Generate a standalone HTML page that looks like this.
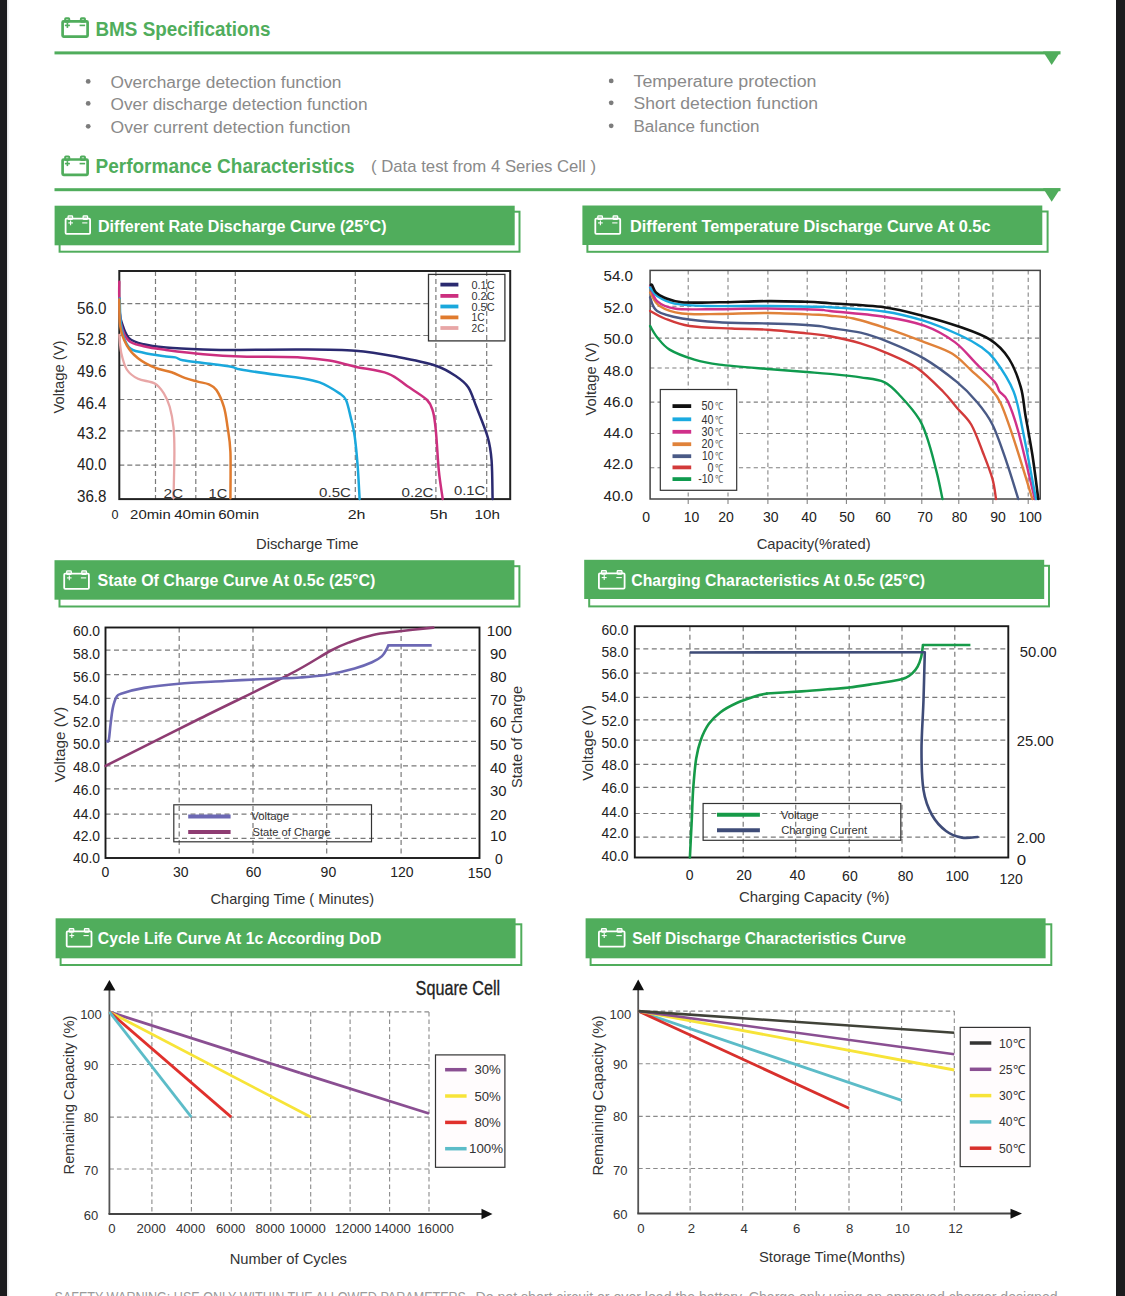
<!DOCTYPE html>
<html><head><meta charset="utf-8"><title>BMS Specifications</title>
<style>
html,body{margin:0;padding:0;background:#fff;}
body{width:1125px;height:1296px;overflow:hidden;position:relative;}
svg{position:absolute;left:0;top:0;display:block;font-family:"Liberation Sans",sans-serif;}
</style></head><body>
<svg width="1125" height="1296" viewBox="0 0 1125 1296">
<rect x="0.0" y="0.0" width="7.0" height="1296.0" fill="#1c1c1e" />
<rect x="7.0" y="0.0" width="1.5" height="1296.0" fill="#e8e8e8" />
<rect x="1116.0" y="0.0" width="9.0" height="1296.0" fill="#1c1c1e" />
<rect x="62.6" y="21.3" width="25.0" height="15.3" rx="1" fill="none" stroke="#50ad5c" stroke-width="2.7"/>
<rect x="65.1" y="18.2" width="4.2" height="3.7" rx="0.8" fill="#50ad5c" fill-opacity="0.35" stroke="#50ad5c" stroke-width="1.89"/>
<rect x="80.8" y="18.2" width="4.2" height="3.7" rx="0.8" fill="#50ad5c" fill-opacity="0.35" stroke="#50ad5c" stroke-width="1.89"/>
<line x1="64.9" y1="25.4" x2="69.9" y2="25.4" stroke="#50ad5c" stroke-width="1.62" />
<line x1="67.4" y1="22.9" x2="67.4" y2="27.9" stroke="#50ad5c" stroke-width="1.62" />
<line x1="79.6" y1="25.4" x2="85.1" y2="25.4" stroke="#50ad5c" stroke-width="1.62" />
<text x="95.5" y="35.6" font-size="20" fill="#50ad5c" font-weight="bold" textLength="175.0" lengthAdjust="spacingAndGlyphs" >BMS Specifications</text>
<rect x="54.5" y="51.4" width="1006.0" height="3.0" fill="#50ad5c" />
<polygon points="1043,51.4 1060.5,51.4 1051.7,64.9" fill="#50ad5c"/>
<rect x="62.6" y="159.5" width="25.0" height="15.3" rx="1" fill="none" stroke="#50ad5c" stroke-width="2.7"/>
<rect x="65.1" y="156.4" width="4.2" height="3.7" rx="0.8" fill="#50ad5c" fill-opacity="0.35" stroke="#50ad5c" stroke-width="1.89"/>
<rect x="80.8" y="156.4" width="4.2" height="3.7" rx="0.8" fill="#50ad5c" fill-opacity="0.35" stroke="#50ad5c" stroke-width="1.89"/>
<line x1="64.9" y1="163.6" x2="69.9" y2="163.6" stroke="#50ad5c" stroke-width="1.62" />
<line x1="67.4" y1="161.1" x2="67.4" y2="166.1" stroke="#50ad5c" stroke-width="1.62" />
<line x1="79.6" y1="163.6" x2="85.1" y2="163.6" stroke="#50ad5c" stroke-width="1.62" />
<text x="95.5" y="172.5" font-size="20" fill="#50ad5c" font-weight="bold" textLength="259.0" lengthAdjust="spacingAndGlyphs" >Performance Characteristics</text>
<rect x="54.5" y="188.2" width="1006.0" height="3.0" fill="#50ad5c" />
<polygon points="1043,188.2 1060.5,188.2 1051.7,201.7" fill="#50ad5c"/>
<text x="371.0" y="172.0" font-size="17" fill="#8a8a8a" textLength="225.0" lengthAdjust="spacingAndGlyphs" >( Data test from 4 Series Cell )</text>
<circle cx="88.2" cy="81.4" r="2.4" fill="#7c7c7c"/>
<text x="110.5" y="87.6" font-size="17.3" fill="#8a8a8a" textLength="231.0" lengthAdjust="spacingAndGlyphs" >Overcharge detection function</text>
<circle cx="88.2" cy="103.4" r="2.4" fill="#7c7c7c"/>
<text x="110.5" y="109.6" font-size="17.3" fill="#8a8a8a" textLength="257.0" lengthAdjust="spacingAndGlyphs" >Over discharge detection function</text>
<circle cx="88.2" cy="126.3" r="2.4" fill="#7c7c7c"/>
<text x="110.5" y="132.5" font-size="17.3" fill="#8a8a8a" textLength="240.0" lengthAdjust="spacingAndGlyphs" >Over current detection function</text>
<circle cx="611.2" cy="80.9" r="2.4" fill="#7c7c7c"/>
<text x="633.5" y="87.1" font-size="17.3" fill="#8a8a8a" textLength="183.0" lengthAdjust="spacingAndGlyphs" >Temperature protection</text>
<circle cx="611.2" cy="102.8" r="2.4" fill="#7c7c7c"/>
<text x="633.5" y="109.0" font-size="17.3" fill="#8a8a8a" textLength="184.5" lengthAdjust="spacingAndGlyphs" >Short detection function</text>
<circle cx="611.2" cy="125.8" r="2.4" fill="#7c7c7c"/>
<text x="633.5" y="132.0" font-size="17.3" fill="#8a8a8a" textLength="126.0" lengthAdjust="spacingAndGlyphs" >Balance function</text>
<rect x="59.6" y="211.7" width="459.9" height="40.0" fill="none" stroke="#50ad5c" stroke-width="2"/>
<rect x="54.6" y="205.7" width="460.1" height="39.6" fill="#50ad5c" />
<rect x="65.6" y="218.7" width="24.5" height="15.1" rx="1" fill="none" stroke="#ffffff" stroke-width="1.8"/>
<rect x="68.1" y="215.9" width="4.5" height="3.5" rx="0.8" fill="#ffffff" fill-opacity="0.35" stroke="#ffffff" stroke-width="1.26"/>
<rect x="83.1" y="215.9" width="4.5" height="3.5" rx="0.8" fill="#ffffff" fill-opacity="0.35" stroke="#ffffff" stroke-width="1.26"/>
<line x1="68.3" y1="222.9" x2="73.0" y2="222.9" stroke="#ffffff" stroke-width="1.08" />
<line x1="70.6" y1="220.5" x2="70.6" y2="225.3" stroke="#ffffff" stroke-width="1.08" />
<line x1="82.2" y1="222.9" x2="87.4" y2="222.9" stroke="#ffffff" stroke-width="1.08" />
<text x="98.0" y="231.7" font-size="16" fill="#ffffff" font-weight="bold" textLength="288.5" lengthAdjust="spacingAndGlyphs" >Different Rate Discharge Curve (25°C)</text>
<rect x="587.4" y="211.5" width="460.2" height="40.3" fill="none" stroke="#50ad5c" stroke-width="2"/>
<rect x="582.4" y="205.5" width="459.9" height="39.5" fill="#50ad5c" />
<rect x="595.3" y="218.7" width="24.9" height="15.1" rx="1" fill="none" stroke="#ffffff" stroke-width="1.8"/>
<rect x="597.8" y="215.9" width="4.6" height="3.5" rx="0.8" fill="#ffffff" fill-opacity="0.35" stroke="#ffffff" stroke-width="1.26"/>
<rect x="613.1" y="215.9" width="4.6" height="3.5" rx="0.8" fill="#ffffff" fill-opacity="0.35" stroke="#ffffff" stroke-width="1.26"/>
<line x1="598.0" y1="222.9" x2="602.8" y2="222.9" stroke="#ffffff" stroke-width="1.08" />
<line x1="600.4" y1="220.5" x2="600.4" y2="225.3" stroke="#ffffff" stroke-width="1.08" />
<line x1="612.2" y1="222.9" x2="617.5" y2="222.9" stroke="#ffffff" stroke-width="1.08" />
<text x="630.0" y="231.5" font-size="16" fill="#ffffff" font-weight="bold" textLength="360.5" lengthAdjust="spacingAndGlyphs" >Different Temperature Discharge Curve At 0.5c</text>
<rect x="59.5" y="566.2" width="459.9" height="40.3" fill="none" stroke="#50ad5c" stroke-width="2"/>
<rect x="54.5" y="560.2" width="459.9" height="39.5" fill="#50ad5c" />
<rect x="64.2" y="573.7" width="24.7" height="15.1" rx="1" fill="none" stroke="#ffffff" stroke-width="1.8"/>
<rect x="66.7" y="570.9" width="4.6" height="3.5" rx="0.8" fill="#ffffff" fill-opacity="0.35" stroke="#ffffff" stroke-width="1.26"/>
<rect x="81.8" y="570.9" width="4.6" height="3.5" rx="0.8" fill="#ffffff" fill-opacity="0.35" stroke="#ffffff" stroke-width="1.26"/>
<line x1="66.9" y1="577.9" x2="71.6" y2="577.9" stroke="#ffffff" stroke-width="1.08" />
<line x1="69.3" y1="575.5" x2="69.3" y2="580.3" stroke="#ffffff" stroke-width="1.08" />
<line x1="80.9" y1="577.9" x2="86.2" y2="577.9" stroke="#ffffff" stroke-width="1.08" />
<text x="97.6" y="586.2" font-size="16" fill="#ffffff" font-weight="bold" textLength="277.8" lengthAdjust="spacingAndGlyphs" >State Of Charge Curve At 0.5c (25°C)</text>
<rect x="589.2" y="565.8" width="459.8" height="40.6" fill="none" stroke="#50ad5c" stroke-width="2"/>
<rect x="584.2" y="559.8" width="460.0" height="39.2" fill="#50ad5c" />
<rect x="598.9" y="573.4" width="25.7" height="15.2" rx="1" fill="none" stroke="#ffffff" stroke-width="1.8"/>
<rect x="601.5" y="570.6" width="4.8" height="3.5" rx="0.8" fill="#ffffff" fill-opacity="0.35" stroke="#ffffff" stroke-width="1.26"/>
<rect x="617.2" y="570.6" width="4.8" height="3.5" rx="0.8" fill="#ffffff" fill-opacity="0.35" stroke="#ffffff" stroke-width="1.26"/>
<line x1="601.7" y1="577.6" x2="606.7" y2="577.6" stroke="#ffffff" stroke-width="1.08" />
<line x1="604.2" y1="575.1" x2="604.2" y2="580.1" stroke="#ffffff" stroke-width="1.08" />
<line x1="616.3" y1="577.6" x2="621.8" y2="577.6" stroke="#ffffff" stroke-width="1.08" />
<text x="631.3" y="585.8" font-size="16" fill="#ffffff" font-weight="bold" textLength="293.8" lengthAdjust="spacingAndGlyphs" >Charging Characteristics At 0.5c (25°C)</text>
<rect x="60.6" y="924.3" width="460.7" height="40.7" fill="none" stroke="#50ad5c" stroke-width="2"/>
<rect x="55.6" y="918.3" width="460.0" height="40.0" fill="#50ad5c" />
<rect x="66.7" y="931.4" width="24.8" height="15.2" rx="1" fill="none" stroke="#ffffff" stroke-width="1.8"/>
<rect x="69.2" y="928.6" width="4.6" height="3.5" rx="0.8" fill="#ffffff" fill-opacity="0.35" stroke="#ffffff" stroke-width="1.26"/>
<rect x="84.4" y="928.6" width="4.6" height="3.5" rx="0.8" fill="#ffffff" fill-opacity="0.35" stroke="#ffffff" stroke-width="1.26"/>
<line x1="69.4" y1="935.6" x2="74.2" y2="935.6" stroke="#ffffff" stroke-width="1.08" />
<line x1="71.8" y1="933.2" x2="71.8" y2="938.0" stroke="#ffffff" stroke-width="1.08" />
<line x1="83.5" y1="935.6" x2="88.8" y2="935.6" stroke="#ffffff" stroke-width="1.08" />
<text x="97.8" y="944.3" font-size="16" fill="#ffffff" font-weight="bold" textLength="283.5" lengthAdjust="spacingAndGlyphs" >Cycle Life Curve At 1c According DoD</text>
<rect x="590.6" y="924.3" width="460.7" height="40.7" fill="none" stroke="#50ad5c" stroke-width="2"/>
<rect x="585.6" y="918.3" width="460.0" height="40.0" fill="#50ad5c" />
<rect x="598.9" y="931.4" width="25.7" height="15.2" rx="1" fill="none" stroke="#ffffff" stroke-width="1.8"/>
<rect x="601.5" y="928.6" width="4.8" height="3.5" rx="0.8" fill="#ffffff" fill-opacity="0.35" stroke="#ffffff" stroke-width="1.26"/>
<rect x="617.2" y="928.6" width="4.8" height="3.5" rx="0.8" fill="#ffffff" fill-opacity="0.35" stroke="#ffffff" stroke-width="1.26"/>
<line x1="601.7" y1="935.6" x2="606.7" y2="935.6" stroke="#ffffff" stroke-width="1.08" />
<line x1="604.2" y1="933.1" x2="604.2" y2="938.1" stroke="#ffffff" stroke-width="1.08" />
<line x1="616.3" y1="935.6" x2="621.8" y2="935.6" stroke="#ffffff" stroke-width="1.08" />
<text x="632.2" y="944.3" font-size="16" fill="#ffffff" font-weight="bold" textLength="273.8" lengthAdjust="spacingAndGlyphs" >Self Discharge Characteristics Curve</text>
<line x1="119.3" y1="303.6" x2="428.0" y2="303.6" stroke="#7a7a7a" stroke-width="1.2" stroke-dasharray="5,3"/>
<line x1="119.3" y1="335.5" x2="428.0" y2="335.5" stroke="#7a7a7a" stroke-width="1.2" stroke-dasharray="5,3"/>
<line x1="119.3" y1="365.4" x2="494.0" y2="365.4" stroke="#7a7a7a" stroke-width="1.2" stroke-dasharray="5,3"/>
<line x1="119.3" y1="399.5" x2="494.0" y2="399.5" stroke="#7a7a7a" stroke-width="1.2" stroke-dasharray="5,3"/>
<line x1="119.3" y1="430.8" x2="494.0" y2="430.8" stroke="#7a7a7a" stroke-width="1.2" stroke-dasharray="5,3"/>
<line x1="119.3" y1="465.1" x2="494.0" y2="465.1" stroke="#7a7a7a" stroke-width="1.2" stroke-dasharray="5,3"/>
<line x1="155.5" y1="271.0" x2="155.5" y2="499.1" stroke="#7a7a7a" stroke-width="1.2" stroke-dasharray="5,3"/>
<line x1="195.8" y1="271.0" x2="195.8" y2="499.1" stroke="#7a7a7a" stroke-width="1.2" stroke-dasharray="5,3"/>
<line x1="235.3" y1="271.0" x2="235.3" y2="499.1" stroke="#7a7a7a" stroke-width="1.2" stroke-dasharray="5,3"/>
<line x1="355.3" y1="271.0" x2="355.3" y2="499.1" stroke="#7a7a7a" stroke-width="1.2" stroke-dasharray="5,3"/>
<line x1="435.9" y1="271.0" x2="435.9" y2="499.1" stroke="#7a7a7a" stroke-width="1.2" stroke-dasharray="5,3"/>
<line x1="486.7" y1="271.0" x2="486.7" y2="499.1" stroke="#7a7a7a" stroke-width="1.2" stroke-dasharray="5,3"/>
<rect x="119.3" y="271.0" width="390.9" height="228.1" fill="none" stroke="#222" stroke-width="2" />
<text x="106.5" y="314.2" font-size="16" fill="#222" text-anchor="end" textLength="29.5" lengthAdjust="spacingAndGlyphs" >56.0</text>
<text x="106.5" y="345.2" font-size="16" fill="#222" text-anchor="end" textLength="29.5" lengthAdjust="spacingAndGlyphs" >52.8</text>
<text x="106.5" y="377.2" font-size="16" fill="#222" text-anchor="end" textLength="29.5" lengthAdjust="spacingAndGlyphs" >49.6</text>
<text x="106.5" y="408.6" font-size="16" fill="#222" text-anchor="end" textLength="29.5" lengthAdjust="spacingAndGlyphs" >46.4</text>
<text x="106.5" y="439.2" font-size="16" fill="#222" text-anchor="end" textLength="29.5" lengthAdjust="spacingAndGlyphs" >43.2</text>
<text x="106.5" y="470.2" font-size="16" fill="#222" text-anchor="end" textLength="29.5" lengthAdjust="spacingAndGlyphs" >40.0</text>
<text x="106.5" y="501.9" font-size="16" fill="#222" text-anchor="end" textLength="29.5" lengthAdjust="spacingAndGlyphs" >36.8</text>
<text x="64.0" y="377.0" font-size="14" fill="#333" text-anchor="middle" textLength="73.0" lengthAdjust="spacingAndGlyphs" transform="rotate(-90 64.0 377.0)" >Voltage (V)</text>
<text x="111.5" y="518.5" font-size="13.5" fill="#222" textLength="7.0" lengthAdjust="spacingAndGlyphs" >0</text>
<text x="130.1" y="518.5" font-size="13.5" fill="#222" textLength="40.6" lengthAdjust="spacingAndGlyphs" >20min</text>
<text x="174.2" y="518.5" font-size="13.5" fill="#222" textLength="41.3" lengthAdjust="spacingAndGlyphs" >40min</text>
<text x="218.2" y="518.5" font-size="13.5" fill="#222" textLength="40.9" lengthAdjust="spacingAndGlyphs" >60min</text>
<text x="347.7" y="518.5" font-size="13.5" fill="#222" textLength="17.8" lengthAdjust="spacingAndGlyphs" >2h</text>
<text x="429.8" y="518.5" font-size="13.5" fill="#222" textLength="17.8" lengthAdjust="spacingAndGlyphs" >5h</text>
<text x="474.6" y="518.5" font-size="13.5" fill="#222" textLength="25.3" lengthAdjust="spacingAndGlyphs" >10h</text>
<text x="256.0" y="549.0" font-size="14.5" fill="#333" textLength="102.5" lengthAdjust="spacingAndGlyphs" >Discharge Time</text>
<path d="M119.6,312.0 C119.9,313.7 120.0,317.7 121.5,322.0 C123.0,326.3 125.0,334.1 128.7,337.8 C132.4,341.5 137.4,342.7 143.6,344.3 C149.8,345.9 156.1,346.6 166.0,347.5 C175.9,348.4 190.9,349.0 203.3,349.4 C215.8,349.8 224.6,349.9 240.7,349.9 C256.8,349.9 280.9,349.4 300.0,349.5 C319.1,349.6 339.0,349.5 355.3,350.7 C371.6,351.9 384.4,354.4 397.8,356.9 C411.2,359.4 426.1,362.4 435.9,365.7 C445.7,369.0 451.0,372.9 456.4,376.5 C461.8,380.1 464.9,382.3 468.2,387.2 C471.5,392.1 472.8,397.5 476.0,405.8 C479.2,414.1 485.1,428.0 487.7,437.1 C490.3,446.2 490.8,450.3 491.6,460.6 C492.4,470.9 492.4,492.6 492.6,499.0" fill="none" stroke="#2b2a70" stroke-width="2.5" stroke-linejoin="round" stroke-linecap="round"/>
<path d="M119.3,281.8 C119.3,284.6 119.0,291.5 119.3,298.6 C119.6,305.8 119.6,317.7 121.2,324.7 C122.8,331.7 125.0,337.0 128.7,340.6 C132.4,344.2 137.4,344.6 143.6,346.2 C149.8,347.8 156.1,348.6 166.0,349.9 C175.9,351.2 190.9,353.1 203.3,354.2 C215.8,355.3 224.6,356.0 240.7,356.5 C256.8,357.0 285.2,356.7 300.0,357.4 C314.8,358.1 320.1,358.9 329.3,360.5 C338.5,362.1 345.5,364.5 355.3,366.7 C365.1,368.9 379.3,370.3 388.0,373.6 C396.7,376.9 401.0,381.9 407.5,386.3 C414.0,390.7 422.9,395.8 427.1,400.0 C431.4,404.2 431.5,406.5 433.0,411.7 C434.5,416.9 434.9,421.5 435.9,431.3 C436.9,441.1 437.7,459.1 438.8,470.4 C439.9,481.7 442.1,494.2 442.7,499.0" fill="none" stroke="#cc2f7f" stroke-width="2.5" stroke-linejoin="round" stroke-linecap="round"/>
<path d="M119.7,298.6 C120.0,303.3 119.7,318.5 121.2,326.6 C122.7,334.7 125.0,342.8 128.7,347.1 C132.4,351.5 137.4,351.1 143.6,352.7 C149.8,354.3 160.7,355.7 166.0,356.5 C171.3,357.3 172.5,356.8 175.3,357.4 C178.1,358.0 178.1,359.3 182.8,360.2 C187.5,361.1 195.2,361.9 203.3,363.0 C211.4,364.1 225.1,365.6 231.3,366.7 C237.5,367.8 232.9,368.1 240.7,369.5 C248.5,370.9 268.1,373.7 278.0,375.1 C287.9,376.5 293.1,376.7 300.0,377.9 C306.9,379.1 313.1,379.9 319.6,382.4 C326.1,384.9 334.7,390.2 339.1,393.1 C343.5,396.0 344.1,395.9 346.0,400.0 C347.9,404.1 349.3,411.4 350.8,417.6 C352.3,423.8 353.7,429.0 354.8,437.1 C355.9,445.2 356.9,456.2 357.7,466.5 C358.5,476.8 359.3,493.6 359.6,499.0" fill="none" stroke="#1aa8dc" stroke-width="2.5" stroke-linejoin="round" stroke-linecap="round"/>
<path d="M119.3,299.5 C119.5,304.0 119.0,319.0 120.3,326.6 C121.5,334.2 123.8,340.0 126.8,345.3 C129.8,350.6 133.3,354.6 138.0,358.3 C142.7,362.0 149.2,365.4 154.8,367.7 C160.4,370.0 166.6,370.6 171.6,372.3 C176.6,374.0 180.3,376.3 184.7,377.9 C189.0,379.4 193.7,380.5 197.7,381.6 C201.7,382.7 205.8,383.0 208.9,384.4 C212.0,385.8 213.9,386.3 216.4,390.0 C218.9,393.7 222.0,400.6 223.9,406.8 C225.8,413.0 226.5,419.9 227.6,427.4 C228.7,434.9 229.9,439.8 230.4,451.6 C230.9,463.4 230.4,490.5 230.4,498.3" fill="none" stroke="#e07b2e" stroke-width="2.5" stroke-linejoin="round" stroke-linecap="round"/>
<path d="M119.3,335.0 C119.6,337.9 120.0,346.9 121.2,352.7 C122.5,358.4 124.0,365.1 126.8,369.5 C129.6,373.9 133.3,376.5 138.0,378.8 C142.7,381.1 150.5,381.0 154.8,383.5 C159.2,386.0 161.6,389.9 164.1,393.8 C166.6,397.7 168.1,401.2 169.7,406.8 C171.3,412.4 172.7,419.9 173.5,427.4 C174.3,434.9 174.4,439.8 174.4,451.6 C174.4,463.4 173.7,490.5 173.5,498.3" fill="none" stroke="#e8a6a6" stroke-width="2.3" stroke-linejoin="round" stroke-linecap="round"/>
<text x="163.5" y="497.5" font-size="13.5" fill="#333" textLength="19.8" lengthAdjust="spacingAndGlyphs" >2C</text>
<text x="208.5" y="497.5" font-size="13.5" fill="#333" textLength="18.7" lengthAdjust="spacingAndGlyphs" >1C</text>
<text x="319.1" y="497.4" font-size="13.5" fill="#333" textLength="31.8" lengthAdjust="spacingAndGlyphs" >0.5C</text>
<text x="401.5" y="497.4" font-size="13.5" fill="#333" textLength="32.0" lengthAdjust="spacingAndGlyphs" >0.2C</text>
<text x="454.0" y="495.4" font-size="13.5" fill="#333" textLength="31.3" lengthAdjust="spacingAndGlyphs" >0.1C</text>
<rect x="428.5" y="274.4" width="76.4" height="66.5" fill="none" stroke="#333" stroke-width="1.3" />
<line x1="440.4" y1="284.6" x2="458.4" y2="284.6" stroke="#2b2a70" stroke-width="3.8" />
<text x="471.5" y="288.6" font-size="11" fill="#333" textLength="23.0" lengthAdjust="spacingAndGlyphs" >0.1C</text>
<line x1="440.4" y1="295.9" x2="458.4" y2="295.9" stroke="#cc2f7f" stroke-width="3.8" />
<text x="471.5" y="299.9" font-size="11" fill="#333" textLength="23.0" lengthAdjust="spacingAndGlyphs" >0.2C</text>
<line x1="440.4" y1="306.5" x2="458.4" y2="306.5" stroke="#1aa8dc" stroke-width="3.8" />
<text x="471.5" y="310.5" font-size="11" fill="#333" textLength="23.0" lengthAdjust="spacingAndGlyphs" >0.5C</text>
<line x1="440.4" y1="317.4" x2="458.4" y2="317.4" stroke="#e07b2e" stroke-width="3.8" />
<text x="471.5" y="321.4" font-size="11" fill="#333" textLength="13.0" lengthAdjust="spacingAndGlyphs" >1C</text>
<line x1="440.4" y1="328.0" x2="458.4" y2="328.0" stroke="#e8a6a6" stroke-width="3.8" />
<text x="471.5" y="332.0" font-size="11" fill="#333" textLength="13.0" lengthAdjust="spacingAndGlyphs" >2C</text>
<line x1="650.1" y1="306.3" x2="1040.0" y2="306.3" stroke="#808080" stroke-width="1.05" stroke-dasharray="4.2,3.2"/>
<line x1="650.1" y1="338.1" x2="1040.0" y2="338.1" stroke="#808080" stroke-width="1.05" stroke-dasharray="4.2,3.2"/>
<line x1="650.1" y1="368.0" x2="1040.0" y2="368.0" stroke="#808080" stroke-width="1.05" stroke-dasharray="4.2,3.2"/>
<line x1="650.1" y1="402.1" x2="1040.0" y2="402.1" stroke="#808080" stroke-width="1.05" stroke-dasharray="4.2,3.2"/>
<line x1="650.1" y1="433.4" x2="1040.0" y2="433.4" stroke="#808080" stroke-width="1.05" stroke-dasharray="4.2,3.2"/>
<line x1="650.1" y1="467.7" x2="1040.0" y2="467.7" stroke="#808080" stroke-width="1.05" stroke-dasharray="4.2,3.2"/>
<line x1="688.2" y1="270.4" x2="688.2" y2="505.0" stroke="#808080" stroke-width="1.05" stroke-dasharray="4.2,3.2"/>
<line x1="728.0" y1="270.4" x2="728.0" y2="505.0" stroke="#808080" stroke-width="1.05" stroke-dasharray="4.2,3.2"/>
<line x1="767.9" y1="270.4" x2="767.9" y2="505.0" stroke="#808080" stroke-width="1.05" stroke-dasharray="4.2,3.2"/>
<line x1="807.2" y1="270.4" x2="807.2" y2="505.0" stroke="#808080" stroke-width="1.05" stroke-dasharray="4.2,3.2"/>
<line x1="846.4" y1="270.4" x2="846.4" y2="505.0" stroke="#808080" stroke-width="1.05" stroke-dasharray="4.2,3.2"/>
<line x1="884.8" y1="270.4" x2="884.8" y2="505.0" stroke="#808080" stroke-width="1.05" stroke-dasharray="4.2,3.2"/>
<line x1="921.8" y1="270.4" x2="921.8" y2="505.0" stroke="#808080" stroke-width="1.05" stroke-dasharray="4.2,3.2"/>
<line x1="958.8" y1="270.4" x2="958.8" y2="505.0" stroke="#808080" stroke-width="1.05" stroke-dasharray="4.2,3.2"/>
<line x1="992.9" y1="270.4" x2="992.9" y2="505.0" stroke="#808080" stroke-width="1.05" stroke-dasharray="4.2,3.2"/>
<line x1="1028.2" y1="270.4" x2="1028.2" y2="505.0" stroke="#808080" stroke-width="1.05" stroke-dasharray="4.2,3.2"/>
<rect x="650.1" y="270.4" width="390.1" height="228.6" fill="none" stroke="#444" stroke-width="1.5" />
<text x="633.0" y="281.4" font-size="15.5" fill="#222" text-anchor="end" textLength="29.5" lengthAdjust="spacingAndGlyphs" >54.0</text>
<text x="633.0" y="313.0" font-size="15.5" fill="#222" text-anchor="end" textLength="29.5" lengthAdjust="spacingAndGlyphs" >52.0</text>
<text x="633.0" y="344.4" font-size="15.5" fill="#222" text-anchor="end" textLength="29.5" lengthAdjust="spacingAndGlyphs" >50.0</text>
<text x="633.0" y="375.5" font-size="15.5" fill="#222" text-anchor="end" textLength="29.5" lengthAdjust="spacingAndGlyphs" >48.0</text>
<text x="633.0" y="407.1" font-size="15.5" fill="#222" text-anchor="end" textLength="29.5" lengthAdjust="spacingAndGlyphs" >46.0</text>
<text x="633.0" y="438.2" font-size="15.5" fill="#222" text-anchor="end" textLength="29.5" lengthAdjust="spacingAndGlyphs" >44.0</text>
<text x="633.0" y="469.4" font-size="15.5" fill="#222" text-anchor="end" textLength="29.5" lengthAdjust="spacingAndGlyphs" >42.0</text>
<text x="633.0" y="500.5" font-size="15.5" fill="#222" text-anchor="end" textLength="29.5" lengthAdjust="spacingAndGlyphs" >40.0</text>
<text x="595.5" y="379.0" font-size="14" fill="#333" text-anchor="middle" textLength="73.0" lengthAdjust="spacingAndGlyphs" transform="rotate(-90 595.5 379.0)" >Voltage (V)</text>
<text x="646.2" y="521.5" font-size="14" fill="#222" text-anchor="middle" >0</text>
<text x="691.5" y="521.5" font-size="14" fill="#222" text-anchor="middle" >10</text>
<text x="726.0" y="521.5" font-size="14" fill="#222" text-anchor="middle" >20</text>
<text x="770.8" y="521.5" font-size="14" fill="#222" text-anchor="middle" >30</text>
<text x="809.0" y="521.5" font-size="14" fill="#222" text-anchor="middle" >40</text>
<text x="847.0" y="521.5" font-size="14" fill="#222" text-anchor="middle" >50</text>
<text x="883.0" y="521.5" font-size="14" fill="#222" text-anchor="middle" >60</text>
<text x="925.1" y="521.5" font-size="14" fill="#222" text-anchor="middle" >70</text>
<text x="959.5" y="521.5" font-size="14" fill="#222" text-anchor="middle" >80</text>
<text x="998.0" y="521.5" font-size="14" fill="#222" text-anchor="middle" >90</text>
<text x="1030.1" y="521.5" font-size="14" fill="#222" text-anchor="middle" >100</text>
<text x="756.7" y="549.0" font-size="14.5" fill="#333" textLength="114.0" lengthAdjust="spacingAndGlyphs" >Capacity(%rated)</text>
<path d="M650.1,326.0 C651.3,327.9 653.9,333.3 657.1,337.2 C660.4,341.1 663.4,345.9 669.6,349.6 C675.8,353.3 686.1,357.1 694.4,359.6 C702.7,362.1 707.0,363.0 719.3,364.6 C731.5,366.2 753.4,367.8 767.9,369.0 C782.4,370.2 796.0,371.2 806.4,372.0 C816.8,372.8 821.0,373.0 830.0,373.9 C839.0,374.8 851.6,376.0 860.6,377.4 C869.6,378.8 877.4,379.0 884.1,382.1 C890.8,385.2 894.7,389.9 900.6,396.2 C906.5,402.5 914.8,411.8 919.5,419.7 C924.2,427.6 926.0,434.3 928.9,443.3 C931.8,452.3 934.8,464.6 937.1,473.9 C939.4,483.2 941.6,494.8 942.5,499.0" fill="none" stroke="#0f9a4e" stroke-width="2.4" stroke-linejoin="round" stroke-linecap="round"/>
<path d="M650.1,311.0 C652.5,312.2 658.0,316.0 664.6,318.5 C671.2,321.0 678.3,324.3 689.5,326.0 C700.7,327.7 718.7,327.9 731.8,328.5 C744.9,329.1 755.5,328.9 767.9,329.7 C780.3,330.5 796.0,332.3 806.4,333.4 C816.8,334.5 821.0,334.5 830.0,336.2 C839.0,337.9 850.8,340.4 860.6,343.3 C870.4,346.2 879.5,349.7 888.9,353.8 C898.3,357.9 908.1,361.7 917.1,368.0 C926.1,374.3 936.3,384.8 943.0,391.5 C949.7,398.2 952.4,402.5 957.1,408.0 C961.8,413.5 966.9,417.1 971.2,424.5 C975.5,431.9 979.5,443.7 983.0,452.7 C986.5,461.7 990.2,470.9 992.4,478.6 C994.6,486.3 995.4,495.6 996.0,499.0" fill="none" stroke="#d23a3a" stroke-width="2.4" stroke-linejoin="round" stroke-linecap="round"/>
<path d="M650.1,297.3 C651.3,299.6 651.8,307.5 657.1,311.0 C662.4,314.5 671.6,316.6 682.0,318.5 C692.4,320.4 705.0,321.4 719.3,322.2 C733.6,323.0 755.4,323.2 767.9,323.5 C780.4,323.8 785.5,323.8 794.0,324.2 C802.5,324.6 812.9,325.4 818.9,326.0 C824.9,326.6 823.0,326.9 830.0,328.0 C837.0,329.1 850.8,330.3 860.6,332.7 C870.4,335.1 878.3,337.8 888.9,342.1 C899.5,346.4 912.8,351.9 924.2,358.6 C935.6,365.3 948.5,375.1 957.1,382.1 C965.7,389.2 970.1,393.8 976.0,400.9 C981.9,408.0 987.3,414.3 992.4,424.5 C997.5,434.7 1002.3,449.7 1006.6,462.1 C1010.9,474.5 1016.3,492.9 1018.3,499.0" fill="none" stroke="#4a5a86" stroke-width="2.4" stroke-linejoin="round" stroke-linecap="round"/>
<path d="M650.1,292.4 C651.7,294.7 654.3,302.5 659.6,306.0 C664.9,309.5 672.0,312.2 682.0,313.5 C692.0,314.8 705.0,314.1 719.3,314.0 C733.6,313.9 751.3,312.9 767.9,313.0 C784.5,313.1 808.5,314.4 818.9,314.8 C829.2,315.2 824.2,315.1 830.0,315.7 C835.8,316.3 843.7,316.3 853.5,318.5 C863.3,320.7 877.1,325.2 888.9,329.1 C900.7,333.0 913.6,338.0 924.2,342.1 C934.8,346.2 944.6,349.1 952.4,353.8 C960.2,358.5 964.9,364.6 971.2,370.3 C977.5,376.0 985.2,382.5 990.1,388.0 C995.0,393.5 996.8,394.9 1000.7,403.3 C1004.6,411.7 1008.3,422.7 1013.6,438.6 C1018.9,454.6 1029.3,488.9 1032.4,499.0" fill="none" stroke="#e0823a" stroke-width="2.4" stroke-linejoin="round" stroke-linecap="round"/>
<path d="M650.1,286.1 C651.3,288.6 653.0,297.4 657.1,301.1 C661.2,304.8 666.2,307.1 674.5,308.5 C682.8,309.9 691.3,309.3 706.9,309.3 C722.5,309.3 749.2,308.4 767.9,308.5 C786.6,308.6 808.5,309.4 818.9,309.8 C829.2,310.2 819.1,309.9 830.0,311.0 C840.9,312.1 868.4,314.3 884.1,316.7 C899.8,319.1 912.4,321.4 924.2,325.6 C936.0,329.8 946.2,335.8 954.8,342.1 C963.4,348.4 969.3,356.6 976.0,363.3 C982.7,370.0 990.9,377.4 994.8,382.1 C998.7,386.8 997.4,388.4 999.5,391.5 C1001.6,394.6 1004.6,394.2 1007.7,400.9 C1010.8,407.6 1013.8,415.1 1018.3,431.5 C1022.8,447.9 1032.0,487.8 1034.8,499.0" fill="none" stroke="#d0308a" stroke-width="2.4" stroke-linejoin="round" stroke-linecap="round"/>
<path d="M650.1,287.4 C651.3,288.8 653.0,293.4 657.1,296.1 C661.2,298.8 666.2,302.0 674.5,303.6 C682.8,305.2 691.3,305.6 706.9,306.0 C722.5,306.4 749.2,305.9 767.9,306.0 C786.6,306.1 808.5,306.6 818.9,306.8 C829.2,307.0 819.1,306.4 830.0,307.2 C840.9,308.0 868.4,309.2 884.1,311.5 C899.8,313.8 911.6,317.0 924.2,320.9 C936.8,324.8 950.1,330.7 959.5,335.0 C968.9,339.3 974.8,342.7 980.7,346.8 C986.6,350.9 989.3,352.2 994.8,359.7 C1000.3,367.1 1008.9,379.5 1013.6,391.5 C1018.3,403.5 1019.3,413.6 1023.0,431.5 C1026.7,449.4 1033.8,487.8 1036.0,499.0" fill="none" stroke="#1aaae0" stroke-width="2.4" stroke-linejoin="round" stroke-linecap="round"/>
<path d="M650.9,284.9 C651.1,284.9 651.2,283.8 652.0,285.0 C652.8,286.2 653.8,290.3 655.9,292.4 C658.0,294.5 660.2,296.1 664.6,297.8 C669.0,299.5 672.9,301.6 682.0,302.3 C691.1,303.1 705.0,302.5 719.3,302.3 C733.6,302.1 753.4,301.2 767.9,301.1 C782.4,301.0 796.0,301.5 806.4,301.8 C816.8,302.1 817.0,302.3 830.0,303.2 C843.0,304.1 868.4,305.0 884.1,307.2 C899.8,309.4 911.6,312.9 924.2,316.2 C936.8,319.5 948.5,322.9 959.5,326.8 C970.5,330.7 981.9,334.4 990.1,339.7 C998.3,345.0 1003.8,350.8 1008.9,358.6 C1014.0,366.5 1018.0,377.4 1020.7,386.8 C1023.5,396.2 1023.5,403.6 1025.4,415.0 C1027.4,426.4 1030.2,441.0 1032.4,455.0 C1034.6,469.0 1037.3,491.7 1038.3,499.0" fill="none" stroke="#111111" stroke-width="2.6" stroke-linejoin="round" stroke-linecap="round"/>
<rect x="660.3" y="389.5" width="76.4" height="100.8" fill="#ffffff" stroke="#333" stroke-width="1.2" />
<line x1="672.5" y1="406.1" x2="691.2" y2="406.1" stroke="#111" stroke-width="3.8" />
<text x="713.5" y="410.3" font-size="12" fill="#333" text-anchor="end" textLength="12.0" lengthAdjust="spacingAndGlyphs" >50</text>
<text x="715.3" y="410.3" font-size="11" fill="#666" textLength="8.3" lengthAdjust="spacingAndGlyphs" font-family="Liberation Serif" >℃</text>
<line x1="672.5" y1="419.3" x2="691.2" y2="419.3" stroke="#1aaae0" stroke-width="3.8" />
<text x="713.5" y="423.5" font-size="12" fill="#333" text-anchor="end" textLength="12.0" lengthAdjust="spacingAndGlyphs" >40</text>
<text x="715.3" y="423.5" font-size="11" fill="#666" textLength="8.3" lengthAdjust="spacingAndGlyphs" font-family="Liberation Serif" >℃</text>
<line x1="672.5" y1="431.8" x2="691.2" y2="431.8" stroke="#d0308a" stroke-width="3.8" />
<text x="713.5" y="436.0" font-size="12" fill="#333" text-anchor="end" textLength="12.0" lengthAdjust="spacingAndGlyphs" >30</text>
<text x="715.3" y="436.0" font-size="11" fill="#666" textLength="8.3" lengthAdjust="spacingAndGlyphs" font-family="Liberation Serif" >℃</text>
<line x1="672.5" y1="444.2" x2="691.2" y2="444.2" stroke="#e0823a" stroke-width="3.8" />
<text x="713.5" y="448.4" font-size="12" fill="#333" text-anchor="end" textLength="12.0" lengthAdjust="spacingAndGlyphs" >20</text>
<text x="715.3" y="448.4" font-size="11" fill="#666" textLength="8.3" lengthAdjust="spacingAndGlyphs" font-family="Liberation Serif" >℃</text>
<line x1="672.5" y1="456.2" x2="691.2" y2="456.2" stroke="#4a5a86" stroke-width="3.8" />
<text x="713.5" y="460.4" font-size="12" fill="#333" text-anchor="end" textLength="11.5" lengthAdjust="spacingAndGlyphs" >10</text>
<text x="715.3" y="460.4" font-size="11" fill="#666" textLength="8.3" lengthAdjust="spacingAndGlyphs" font-family="Liberation Serif" >℃</text>
<line x1="672.5" y1="467.4" x2="691.2" y2="467.4" stroke="#d23a3a" stroke-width="3.8" />
<text x="713.5" y="471.6" font-size="12" fill="#333" text-anchor="end" textLength="6.0" lengthAdjust="spacingAndGlyphs" >0</text>
<text x="715.3" y="471.6" font-size="11" fill="#666" textLength="8.3" lengthAdjust="spacingAndGlyphs" font-family="Liberation Serif" >℃</text>
<line x1="672.5" y1="479.1" x2="691.2" y2="479.1" stroke="#0f9a4e" stroke-width="3.8" />
<text x="713.5" y="483.3" font-size="12" fill="#333" text-anchor="end" textLength="15.3" lengthAdjust="spacingAndGlyphs" >-10</text>
<text x="715.3" y="483.3" font-size="11" fill="#666" textLength="8.3" lengthAdjust="spacingAndGlyphs" font-family="Liberation Serif" >℃</text>
<line x1="105.5" y1="650.2" x2="479.5" y2="650.2" stroke="#7a7a7a" stroke-width="1.2" stroke-dasharray="5,3.5"/>
<line x1="105.5" y1="674.7" x2="479.5" y2="674.7" stroke="#7a7a7a" stroke-width="1.2" stroke-dasharray="5,3.5"/>
<line x1="105.5" y1="698.3" x2="479.5" y2="698.3" stroke="#7a7a7a" stroke-width="1.2" stroke-dasharray="5,3.5"/>
<line x1="105.5" y1="721.0" x2="479.5" y2="721.0" stroke="#7a7a7a" stroke-width="1.2" stroke-dasharray="5,3.5"/>
<line x1="105.5" y1="741.3" x2="479.5" y2="741.3" stroke="#7a7a7a" stroke-width="1.2" stroke-dasharray="5,3.5"/>
<line x1="105.5" y1="765.8" x2="479.5" y2="765.8" stroke="#7a7a7a" stroke-width="1.2" stroke-dasharray="5,3.5"/>
<line x1="105.5" y1="788.9" x2="479.5" y2="788.9" stroke="#7a7a7a" stroke-width="1.2" stroke-dasharray="5,3.5"/>
<line x1="105.5" y1="814.1" x2="479.5" y2="814.1" stroke="#7a7a7a" stroke-width="1.2" stroke-dasharray="5,3.5"/>
<line x1="105.5" y1="838.3" x2="479.5" y2="838.3" stroke="#7a7a7a" stroke-width="1.2" stroke-dasharray="5,3.5"/>
<line x1="179.2" y1="627.5" x2="179.2" y2="857.7" stroke="#7a7a7a" stroke-width="1.2" stroke-dasharray="5,3.5"/>
<line x1="253.0" y1="627.5" x2="253.0" y2="857.7" stroke="#7a7a7a" stroke-width="1.2" stroke-dasharray="5,3.5"/>
<line x1="326.7" y1="627.5" x2="326.7" y2="857.7" stroke="#7a7a7a" stroke-width="1.2" stroke-dasharray="5,3.5"/>
<line x1="401.1" y1="627.5" x2="401.1" y2="857.7" stroke="#7a7a7a" stroke-width="1.2" stroke-dasharray="5,3.5"/>
<rect x="105.5" y="627.5" width="374.0" height="230.5" fill="none" stroke="#1a1a1a" stroke-width="1.9" />
<text x="100.0" y="636.2" font-size="14.8" fill="#222" text-anchor="end" textLength="27.0" lengthAdjust="spacingAndGlyphs" >60.0</text>
<text x="100.0" y="659.3" font-size="14.8" fill="#222" text-anchor="end" textLength="27.0" lengthAdjust="spacingAndGlyphs" >58.0</text>
<text x="100.0" y="681.5" font-size="14.8" fill="#222" text-anchor="end" textLength="27.0" lengthAdjust="spacingAndGlyphs" >56.0</text>
<text x="100.0" y="704.7" font-size="14.8" fill="#222" text-anchor="end" textLength="27.0" lengthAdjust="spacingAndGlyphs" >54.0</text>
<text x="100.0" y="727.1" font-size="14.8" fill="#222" text-anchor="end" textLength="27.0" lengthAdjust="spacingAndGlyphs" >52.0</text>
<text x="100.0" y="749.1" font-size="14.8" fill="#222" text-anchor="end" textLength="27.0" lengthAdjust="spacingAndGlyphs" >50.0</text>
<text x="100.0" y="771.8" font-size="14.8" fill="#222" text-anchor="end" textLength="27.0" lengthAdjust="spacingAndGlyphs" >48.0</text>
<text x="100.0" y="795.0" font-size="14.8" fill="#222" text-anchor="end" textLength="27.0" lengthAdjust="spacingAndGlyphs" >46.0</text>
<text x="100.0" y="818.6" font-size="14.8" fill="#222" text-anchor="end" textLength="27.0" lengthAdjust="spacingAndGlyphs" >44.0</text>
<text x="100.0" y="840.6" font-size="14.8" fill="#222" text-anchor="end" textLength="27.0" lengthAdjust="spacingAndGlyphs" >42.0</text>
<text x="100.0" y="863.3" font-size="14.8" fill="#222" text-anchor="end" textLength="27.0" lengthAdjust="spacingAndGlyphs" >40.0</text>
<text x="486.8" y="636.0" font-size="15.3" fill="#222" textLength="25.0" lengthAdjust="spacingAndGlyphs" >100</text>
<text x="490.0" y="659.2" font-size="15.3" fill="#222" textLength="16.5" lengthAdjust="spacingAndGlyphs" >90</text>
<text x="490.0" y="682.1" font-size="15.3" fill="#222" textLength="16.5" lengthAdjust="spacingAndGlyphs" >80</text>
<text x="490.0" y="704.7" font-size="15.3" fill="#222" textLength="16.5" lengthAdjust="spacingAndGlyphs" >70</text>
<text x="490.0" y="727.1" font-size="15.3" fill="#222" textLength="16.5" lengthAdjust="spacingAndGlyphs" >60</text>
<text x="490.0" y="750.0" font-size="15.3" fill="#222" textLength="16.5" lengthAdjust="spacingAndGlyphs" >50</text>
<text x="490.0" y="772.9" font-size="15.3" fill="#222" textLength="16.5" lengthAdjust="spacingAndGlyphs" >40</text>
<text x="490.0" y="796.1" font-size="15.3" fill="#222" textLength="16.5" lengthAdjust="spacingAndGlyphs" >30</text>
<text x="490.0" y="819.7" font-size="15.3" fill="#222" textLength="16.5" lengthAdjust="spacingAndGlyphs" >20</text>
<text x="490.0" y="840.9" font-size="15.3" fill="#222" textLength="16.5" lengthAdjust="spacingAndGlyphs" >10</text>
<text x="499.0" y="864.0" font-size="14" fill="#222" text-anchor="middle" >0</text>
<text x="65.5" y="744.6" font-size="14" fill="#333" text-anchor="middle" textLength="75.5" lengthAdjust="spacingAndGlyphs" transform="rotate(-90 65.5 744.6)" >Voltage (V)</text>
<text x="521.5" y="737.0" font-size="14" fill="#333" text-anchor="middle" textLength="102.0" lengthAdjust="spacingAndGlyphs" transform="rotate(-90 521.5 737.0)" >State of Charge</text>
<text x="105.5" y="877.0" font-size="14" fill="#222" text-anchor="middle" >0</text>
<text x="180.8" y="877.0" font-size="14" fill="#222" text-anchor="middle" >30</text>
<text x="253.5" y="877.0" font-size="14" fill="#222" text-anchor="middle" >60</text>
<text x="328.4" y="877.0" font-size="14" fill="#222" text-anchor="middle" >90</text>
<text x="401.9" y="877.0" font-size="14" fill="#222" text-anchor="middle" >120</text>
<text x="479.5" y="878.0" font-size="14" fill="#222" text-anchor="middle" >150</text>
<text x="210.6" y="904.0" font-size="14.5" fill="#333" textLength="163.4" lengthAdjust="spacingAndGlyphs" >Charging Time ( Minutes)</text>
<path d="M105.5,765.9 C121.2,758.0 169.4,733.7 200.0,718.5 C230.6,703.3 267.1,686.0 288.9,674.7 C310.7,663.4 320.6,656.0 331.0,650.5 C341.4,645.0 344.0,644.3 351.0,641.7 C358.0,639.1 365.6,636.7 373.0,635.0 C380.4,633.3 385.6,632.9 395.6,631.7 C405.7,630.5 427.0,628.3 433.3,627.6" fill="none" stroke="#8e3c72" stroke-width="2.6" stroke-linejoin="round" stroke-linecap="round"/>
<path d="M107.1,741.2 C107.4,741.0 108.2,742.9 108.8,740.0 C109.4,737.1 109.9,729.2 110.6,723.8 C111.3,718.4 111.9,712.0 112.9,707.6 C113.9,703.2 115.1,699.5 116.4,697.2 C117.8,694.9 116.4,695.2 121.0,693.7 C125.6,692.2 134.5,689.5 144.2,687.9 C153.8,686.2 165.4,684.9 178.9,683.8 C192.4,682.6 209.8,681.9 225.2,681.0 C240.6,680.1 259.0,679.3 271.5,678.7 C284.0,678.1 290.7,678.2 300.0,677.5 C309.3,676.8 318.1,676.2 327.2,674.7 C336.3,673.2 347.1,670.6 354.6,668.5 C362.1,666.4 367.4,664.4 372.0,662.3 C376.6,660.2 379.5,658.4 382.0,656.1 C384.5,653.8 385.9,650.4 386.9,648.6 C387.9,646.8 388.0,645.9 388.2,645.4" fill="none" stroke="#6c68b4" stroke-width="2.6" stroke-linejoin="round" stroke-linecap="round"/>
<line x1="388.2" y1="645.4" x2="431.7" y2="645.4" stroke="#6c68b4" stroke-width="2.6" />
<rect x="173.8" y="804.8" width="197.7" height="37.0" fill="none" stroke="#333" stroke-width="1.2" />
<line x1="188.2" y1="816.4" x2="230.6" y2="816.4" stroke="#6c68b4" stroke-width="4" />
<line x1="188.2" y1="831.9" x2="230.6" y2="831.9" stroke="#8e3c72" stroke-width="4" />
<text x="251.2" y="820.3" font-size="11" fill="#333" textLength="38.0" lengthAdjust="spacingAndGlyphs" >Voltage</text>
<text x="252.5" y="835.8" font-size="11" fill="#333" textLength="78.0" lengthAdjust="spacingAndGlyphs" >State of Charge</text>
<line x1="634.8" y1="648.8" x2="1008.3" y2="648.8" stroke="#7a7a7a" stroke-width="1.2" stroke-dasharray="5,3.5"/>
<line x1="634.8" y1="673.2" x2="1008.3" y2="673.2" stroke="#7a7a7a" stroke-width="1.2" stroke-dasharray="5,3.5"/>
<line x1="634.8" y1="697.3" x2="1008.3" y2="697.3" stroke="#7a7a7a" stroke-width="1.2" stroke-dasharray="5,3.5"/>
<line x1="634.8" y1="719.8" x2="1008.3" y2="719.8" stroke="#7a7a7a" stroke-width="1.2" stroke-dasharray="5,3.5"/>
<line x1="634.8" y1="740.2" x2="1008.3" y2="740.2" stroke="#7a7a7a" stroke-width="1.2" stroke-dasharray="5,3.5"/>
<line x1="634.8" y1="764.3" x2="1008.3" y2="764.3" stroke="#7a7a7a" stroke-width="1.2" stroke-dasharray="5,3.5"/>
<line x1="634.8" y1="787.4" x2="1008.3" y2="787.4" stroke="#7a7a7a" stroke-width="1.2" stroke-dasharray="5,3.5"/>
<line x1="634.8" y1="813.5" x2="1008.3" y2="813.5" stroke="#7a7a7a" stroke-width="1.2" stroke-dasharray="5,3.5"/>
<line x1="634.8" y1="837.1" x2="1008.3" y2="837.1" stroke="#7a7a7a" stroke-width="1.2" stroke-dasharray="5,3.5"/>
<line x1="689.9" y1="626.2" x2="689.9" y2="857.5" stroke="#7a7a7a" stroke-width="1.2" stroke-dasharray="5,3.5"/>
<line x1="743.2" y1="626.2" x2="743.2" y2="857.5" stroke="#7a7a7a" stroke-width="1.2" stroke-dasharray="5,3.5"/>
<line x1="795.7" y1="626.2" x2="795.7" y2="857.5" stroke="#7a7a7a" stroke-width="1.2" stroke-dasharray="5,3.5"/>
<line x1="849.2" y1="626.2" x2="849.2" y2="857.5" stroke="#7a7a7a" stroke-width="1.2" stroke-dasharray="5,3.5"/>
<line x1="902.0" y1="626.2" x2="902.0" y2="857.5" stroke="#7a7a7a" stroke-width="1.2" stroke-dasharray="5,3.5"/>
<line x1="954.8" y1="626.2" x2="954.8" y2="857.5" stroke="#7a7a7a" stroke-width="1.2" stroke-dasharray="5,3.5"/>
<rect x="634.8" y="626.2" width="373.5" height="231.3" fill="none" stroke="#1a1a1a" stroke-width="1.9" />
<text x="628.5" y="634.5" font-size="14.8" fill="#222" text-anchor="end" textLength="27.0" lengthAdjust="spacingAndGlyphs" >60.0</text>
<text x="628.5" y="657.0" font-size="14.8" fill="#222" text-anchor="end" textLength="27.0" lengthAdjust="spacingAndGlyphs" >58.0</text>
<text x="628.5" y="679.2" font-size="14.8" fill="#222" text-anchor="end" textLength="27.0" lengthAdjust="spacingAndGlyphs" >56.0</text>
<text x="628.5" y="702.4" font-size="14.8" fill="#222" text-anchor="end" textLength="27.0" lengthAdjust="spacingAndGlyphs" >54.0</text>
<text x="628.5" y="725.5" font-size="14.8" fill="#222" text-anchor="end" textLength="27.0" lengthAdjust="spacingAndGlyphs" >52.0</text>
<text x="628.5" y="748.0" font-size="14.8" fill="#222" text-anchor="end" textLength="27.0" lengthAdjust="spacingAndGlyphs" >50.0</text>
<text x="628.5" y="770.4" font-size="14.8" fill="#222" text-anchor="end" textLength="27.0" lengthAdjust="spacingAndGlyphs" >48.0</text>
<text x="628.5" y="793.1" font-size="14.8" fill="#222" text-anchor="end" textLength="27.0" lengthAdjust="spacingAndGlyphs" >46.0</text>
<text x="628.5" y="816.7" font-size="14.8" fill="#222" text-anchor="end" textLength="27.0" lengthAdjust="spacingAndGlyphs" >44.0</text>
<text x="628.5" y="838.3" font-size="14.8" fill="#222" text-anchor="end" textLength="27.0" lengthAdjust="spacingAndGlyphs" >42.0</text>
<text x="628.5" y="861.4" font-size="14.8" fill="#222" text-anchor="end" textLength="27.0" lengthAdjust="spacingAndGlyphs" >40.0</text>
<text x="1019.8" y="657.2" font-size="14" fill="#222" textLength="37.0" lengthAdjust="spacingAndGlyphs" >50.00</text>
<text x="1016.7" y="746.0" font-size="14" fill="#222" textLength="37.0" lengthAdjust="spacingAndGlyphs" >25.00</text>
<text x="1016.7" y="842.7" font-size="14" fill="#222" textLength="28.6" lengthAdjust="spacingAndGlyphs" >2.00</text>
<text x="1016.7" y="865.3" font-size="14" fill="#222" textLength="9.4" lengthAdjust="spacingAndGlyphs" >0</text>
<text x="593.3" y="743.0" font-size="14" fill="#333" text-anchor="middle" textLength="75.5" lengthAdjust="spacingAndGlyphs" transform="rotate(-90 593.3 743.0)" >Voltage (V)</text>
<text x="689.7" y="880.4" font-size="14" fill="#222" text-anchor="middle" >0</text>
<text x="744.1" y="880.4" font-size="14" fill="#222" text-anchor="middle" >20</text>
<text x="797.4" y="880.4" font-size="14" fill="#222" text-anchor="middle" >40</text>
<text x="849.9" y="881.1" font-size="14" fill="#222" text-anchor="middle" >60</text>
<text x="905.6" y="881.1" font-size="14" fill="#222" text-anchor="middle" >80</text>
<text x="957.2" y="881.1" font-size="14" fill="#222" text-anchor="middle" >100</text>
<text x="1011.2" y="884.0" font-size="14" fill="#222" text-anchor="middle" >120</text>
<text x="739.0" y="902.0" font-size="14.5" fill="#333" textLength="150.5" lengthAdjust="spacingAndGlyphs" >Charging Capacity (%)</text>
<path d="M689.9,857.5 C690.2,851.8 691.0,834.8 691.6,823.3 C692.2,811.8 692.4,799.4 693.2,788.6 C694.0,777.8 694.9,766.6 696.2,758.5 C697.5,750.4 698.7,745.8 700.8,740.0 C702.9,734.2 705.6,728.4 708.9,723.8 C712.2,719.2 715.9,715.7 720.5,712.2 C725.1,708.7 730.9,705.7 736.7,703.0 C742.5,700.3 750.2,697.8 755.2,696.2 C760.2,694.6 764.9,694.0 766.8,693.5" fill="none" stroke="#169a48" stroke-width="2.6" stroke-linejoin="round" stroke-linecap="round"/>
<path d="M766.8,693.5 C772.6,693.1 791.0,692.1 801.5,691.4 C812.0,690.7 822.0,689.8 830.0,689.1 C838.0,688.5 841.7,688.4 849.2,687.5 C856.7,686.6 866.9,685.0 875.0,683.8 C883.1,682.5 892.8,681.0 898.0,680.0 C903.2,679.0 903.7,678.7 906.0,677.6 C908.3,676.5 910.1,675.4 912.0,673.6 C913.9,671.8 916.1,669.4 917.6,666.6 C919.1,663.8 920.4,660.1 921.2,657.0 C922.0,653.9 922.3,650.0 922.6,648.0 C922.9,646.0 922.9,645.5 922.9,645.0" fill="none" stroke="#169a48" stroke-width="2.6" stroke-linejoin="round" stroke-linecap="round"/>
<line x1="922.9" y1="645.0" x2="970.4" y2="645.0" stroke="#169a48" stroke-width="2.6" />
<path d="M689.9,652.5 L924.8,652.2" fill="none" stroke="#3f4c78" stroke-width="2.6"/>
<path d="M924.8,652.2 C924.6,660.2 924.0,683.7 923.5,700.0 C923.0,716.3 921.5,735.0 921.5,750.0 C921.5,765.0 921.8,779.2 923.5,790.0 C925.2,800.8 928.2,808.2 932.0,815.0 C935.8,821.8 941.0,827.2 946.0,831.0 C951.0,834.8 956.7,836.6 962.0,837.6 C967.3,838.6 975.0,837.1 977.6,837.0" fill="none" stroke="#3f4c78" stroke-width="2.6" stroke-linejoin="round" stroke-linecap="round"/>
<rect x="703.1" y="803.5" width="197.7" height="36.8" fill="none" stroke="#333" stroke-width="1.2" />
<line x1="717.0" y1="814.8" x2="759.9" y2="814.8" stroke="#169a48" stroke-width="4" />
<line x1="717.0" y1="830.3" x2="759.9" y2="830.3" stroke="#3f4c78" stroke-width="4" />
<text x="780.7" y="818.8" font-size="11" fill="#333" textLength="38.0" lengthAdjust="spacingAndGlyphs" >Voltage</text>
<text x="781.2" y="834.3" font-size="11" fill="#333" textLength="86.0" lengthAdjust="spacingAndGlyphs" >Charging Current</text>
<line x1="109.4" y1="1011.9" x2="429.0" y2="1011.9" stroke="#8a8a8a" stroke-width="1.1" stroke-dasharray="4.5,3"/>
<line x1="109.4" y1="1064.5" x2="429.0" y2="1064.5" stroke="#8a8a8a" stroke-width="1.1" stroke-dasharray="4.5,3"/>
<line x1="109.4" y1="1117.1" x2="429.0" y2="1117.1" stroke="#8a8a8a" stroke-width="1.1" stroke-dasharray="4.5,3"/>
<line x1="109.4" y1="1169.0" x2="429.0" y2="1169.0" stroke="#8a8a8a" stroke-width="1.1" stroke-dasharray="4.5,3"/>
<line x1="151.9" y1="1011.9" x2="151.9" y2="1214.0" stroke="#8a8a8a" stroke-width="1.1" stroke-dasharray="4.5,3"/>
<line x1="191.4" y1="1011.9" x2="191.4" y2="1214.0" stroke="#8a8a8a" stroke-width="1.1" stroke-dasharray="4.5,3"/>
<line x1="231.3" y1="1011.9" x2="231.3" y2="1214.0" stroke="#8a8a8a" stroke-width="1.1" stroke-dasharray="4.5,3"/>
<line x1="270.8" y1="1011.9" x2="270.8" y2="1214.0" stroke="#8a8a8a" stroke-width="1.1" stroke-dasharray="4.5,3"/>
<line x1="310.7" y1="1011.9" x2="310.7" y2="1214.0" stroke="#8a8a8a" stroke-width="1.1" stroke-dasharray="4.5,3"/>
<line x1="350.1" y1="1011.9" x2="350.1" y2="1214.0" stroke="#8a8a8a" stroke-width="1.1" stroke-dasharray="4.5,3"/>
<line x1="389.6" y1="1011.9" x2="389.6" y2="1214.0" stroke="#8a8a8a" stroke-width="1.1" stroke-dasharray="4.5,3"/>
<line x1="429.0" y1="1011.9" x2="429.0" y2="1214.0" stroke="#8a8a8a" stroke-width="1.1" stroke-dasharray="4.5,3"/>
<line x1="109.4" y1="988.0" x2="109.4" y2="1214.0" stroke="#555" stroke-width="1.8" />
<line x1="108.5" y1="1214.0" x2="484.0" y2="1214.0" stroke="#444" stroke-width="1.8" />
<polygon points="103.4,990.5 115.4,990.5 109.4,980" fill="#111"/>
<polygon points="481.5,1208.8 481.5,1219.2 492.5,1214" fill="#111"/>
<text x="91.0" y="1019.3" font-size="13" fill="#333" text-anchor="middle" >100</text>
<text x="91.0" y="1070.0" font-size="13" fill="#333" text-anchor="middle" >90</text>
<text x="91.0" y="1121.9" font-size="13" fill="#333" text-anchor="middle" >80</text>
<text x="91.0" y="1174.7" font-size="13" fill="#333" text-anchor="middle" >70</text>
<text x="91.0" y="1219.5" font-size="13" fill="#333" text-anchor="middle" >60</text>
<text x="74.0" y="1095.0" font-size="15" fill="#333" text-anchor="middle" textLength="159.0" lengthAdjust="spacingAndGlyphs" transform="rotate(-90 74.0 1095.0)" >Remaining Capacity (%)</text>
<text x="111.8" y="1233.0" font-size="13.2" fill="#333" text-anchor="middle" >0</text>
<text x="151.2" y="1233.0" font-size="13.2" fill="#333" text-anchor="middle" >2000</text>
<text x="190.6" y="1233.0" font-size="13.2" fill="#333" text-anchor="middle" >4000</text>
<text x="230.7" y="1233.0" font-size="13.2" fill="#333" text-anchor="middle" >6000</text>
<text x="270.2" y="1233.0" font-size="13.2" fill="#333" text-anchor="middle" >8000</text>
<text x="307.6" y="1233.0" font-size="13.2" fill="#333" text-anchor="middle" >10000</text>
<text x="353.1" y="1233.0" font-size="13.2" fill="#333" text-anchor="middle" >12000</text>
<text x="392.5" y="1233.0" font-size="13.2" fill="#333" text-anchor="middle" >14000</text>
<text x="435.6" y="1233.0" font-size="13.2" fill="#333" text-anchor="middle" >16000</text>
<text x="229.7" y="1264.0" font-size="14.5" fill="#333" textLength="117.3" lengthAdjust="spacingAndGlyphs" >Number of Cycles</text>
<text x="415.6" y="995.2" font-size="20.5" fill="#222" textLength="84.6" lengthAdjust="spacingAndGlyphs" stroke="#222" stroke-width="0.3">Square Cell</text>
<line x1="109.4" y1="1011.9" x2="300.0" y2="1072.8" stroke="#8a4f92" stroke-width="2.8" />
<line x1="300.0" y1="1072.8" x2="429.0" y2="1113.5" stroke="#8a4f92" stroke-width="2.8" />
<line x1="109.4" y1="1011.9" x2="310.7" y2="1117.1" stroke="#f7e438" stroke-width="2.8" />
<line x1="109.4" y1="1011.9" x2="231.3" y2="1117.1" stroke="#e0302c" stroke-width="2.8" />
<line x1="109.4" y1="1011.9" x2="191.4" y2="1117.1" stroke="#5cbcc8" stroke-width="2.8" />
<rect x="435.5" y="1054.9" width="69.4" height="112.4" fill="#fffcfd" stroke="#333" stroke-width="1.2" />
<line x1="445.1" y1="1069.7" x2="466.6" y2="1069.7" stroke="#8a4f92" stroke-width="3.5" />
<text x="474.5" y="1074.2" font-size="12.5" fill="#333" textLength="26.3" lengthAdjust="spacingAndGlyphs" >30%</text>
<line x1="445.1" y1="1096.0" x2="466.6" y2="1096.0" stroke="#f7e438" stroke-width="3.5" />
<text x="474.5" y="1100.5" font-size="12.5" fill="#333" textLength="26.3" lengthAdjust="spacingAndGlyphs" >50%</text>
<line x1="445.1" y1="1122.4" x2="466.6" y2="1122.4" stroke="#e0302c" stroke-width="3.5" />
<text x="474.5" y="1126.9" font-size="12.5" fill="#333" textLength="26.3" lengthAdjust="spacingAndGlyphs" >80%</text>
<line x1="445.1" y1="1148.7" x2="466.6" y2="1148.7" stroke="#5cbcc8" stroke-width="3.5" />
<text x="469.0" y="1153.2" font-size="12.5" fill="#333" textLength="34.0" lengthAdjust="spacingAndGlyphs" >100%</text>
<line x1="638.2" y1="1011.1" x2="954.3" y2="1011.1" stroke="#8a8a8a" stroke-width="1.1" stroke-dasharray="4.5,3"/>
<line x1="638.2" y1="1063.8" x2="954.3" y2="1063.8" stroke="#8a8a8a" stroke-width="1.1" stroke-dasharray="4.5,3"/>
<line x1="638.2" y1="1116.4" x2="954.3" y2="1116.4" stroke="#8a8a8a" stroke-width="1.1" stroke-dasharray="4.5,3"/>
<line x1="638.2" y1="1168.5" x2="954.3" y2="1168.5" stroke="#8a8a8a" stroke-width="1.1" stroke-dasharray="4.5,3"/>
<line x1="690.1" y1="1011.1" x2="690.1" y2="1213.5" stroke="#8a8a8a" stroke-width="1.1" stroke-dasharray="4.5,3"/>
<line x1="742.7" y1="1011.1" x2="742.7" y2="1213.5" stroke="#8a8a8a" stroke-width="1.1" stroke-dasharray="4.5,3"/>
<line x1="795.5" y1="1011.1" x2="795.5" y2="1213.5" stroke="#8a8a8a" stroke-width="1.1" stroke-dasharray="4.5,3"/>
<line x1="849.0" y1="1011.1" x2="849.0" y2="1213.5" stroke="#8a8a8a" stroke-width="1.1" stroke-dasharray="4.5,3"/>
<line x1="901.6" y1="1011.1" x2="901.6" y2="1213.5" stroke="#8a8a8a" stroke-width="1.1" stroke-dasharray="4.5,3"/>
<line x1="954.3" y1="1011.1" x2="954.3" y2="1213.5" stroke="#8a8a8a" stroke-width="1.1" stroke-dasharray="4.5,3"/>
<line x1="638.2" y1="988.0" x2="638.2" y2="1213.5" stroke="#555" stroke-width="1.8" />
<line x1="637.3" y1="1213.5" x2="1012.0" y2="1213.5" stroke="#444" stroke-width="1.8" />
<polygon points="632.4,990.3 644,990.3 638.2,979.6" fill="#111"/>
<polygon points="1010.5,1208.7 1010.5,1218.7 1022,1213.5" fill="#111"/>
<text x="620.3" y="1018.5" font-size="13" fill="#333" text-anchor="middle" >100</text>
<text x="620.3" y="1069.3" font-size="13" fill="#333" text-anchor="middle" >90</text>
<text x="620.3" y="1121.4" font-size="13" fill="#333" text-anchor="middle" >80</text>
<text x="620.3" y="1174.7" font-size="13" fill="#333" text-anchor="middle" >70</text>
<text x="620.3" y="1218.7" font-size="13" fill="#333" text-anchor="middle" >60</text>
<text x="603.0" y="1095.5" font-size="15" fill="#333" text-anchor="middle" textLength="160.0" lengthAdjust="spacingAndGlyphs" transform="rotate(-90 603.0 1095.5)" >Remaining Capacity (%)</text>
<text x="641.0" y="1233.0" font-size="13.2" fill="#333" text-anchor="middle" >0</text>
<text x="691.3" y="1233.0" font-size="13.2" fill="#333" text-anchor="middle" >2</text>
<text x="744.1" y="1233.0" font-size="13.2" fill="#333" text-anchor="middle" >4</text>
<text x="796.7" y="1233.0" font-size="13.2" fill="#333" text-anchor="middle" >6</text>
<text x="849.7" y="1233.0" font-size="13.2" fill="#333" text-anchor="middle" >8</text>
<text x="902.4" y="1233.0" font-size="13.2" fill="#333" text-anchor="middle" >10</text>
<text x="955.5" y="1233.0" font-size="13.2" fill="#333" text-anchor="middle" >12</text>
<text x="759.0" y="1262.0" font-size="14.5" fill="#333" textLength="146.2" lengthAdjust="spacingAndGlyphs" >Storage Time(Months)</text>
<line x1="638.2" y1="1011.1" x2="901.6" y2="1100.4" stroke="#5cbcc8" stroke-width="2.8" />
<line x1="638.2" y1="1011.1" x2="849.0" y2="1108.2" stroke="#d8302c" stroke-width="2.8" />
<line x1="638.2" y1="1011.1" x2="954.3" y2="1070.0" stroke="#f7e438" stroke-width="2.8" />
<line x1="638.2" y1="1011.1" x2="954.3" y2="1054.2" stroke="#8a4f92" stroke-width="2.6" />
<line x1="638.2" y1="1011.1" x2="954.3" y2="1032.7" stroke="#404238" stroke-width="2.6" />
<rect x="960.2" y="1027.4" width="69.9" height="139.2" fill="#fffcfd" stroke="#333" stroke-width="1.2" />
<line x1="969.8" y1="1043.0" x2="991.3" y2="1043.0" stroke="#333" stroke-width="3.5" />
<text x="999.0" y="1047.5" font-size="12.5" fill="#333" textLength="13.5" lengthAdjust="spacingAndGlyphs" >10</text>
<text x="1012.5" y="1047.5" font-size="12.5" fill="#333" font-family="Liberation Serif" >℃</text>
<line x1="969.8" y1="1069.3" x2="991.3" y2="1069.3" stroke="#8a4f92" stroke-width="3.5" />
<text x="999.0" y="1073.8" font-size="12.5" fill="#333" textLength="13.5" lengthAdjust="spacingAndGlyphs" >25</text>
<text x="1012.5" y="1073.8" font-size="12.5" fill="#333" font-family="Liberation Serif" >℃</text>
<line x1="969.8" y1="1095.6" x2="991.3" y2="1095.6" stroke="#f7e438" stroke-width="3.5" />
<text x="999.0" y="1100.1" font-size="12.5" fill="#333" textLength="13.5" lengthAdjust="spacingAndGlyphs" >30</text>
<text x="1012.5" y="1100.1" font-size="12.5" fill="#333" font-family="Liberation Serif" >℃</text>
<line x1="969.8" y1="1121.9" x2="991.3" y2="1121.9" stroke="#5cbcc8" stroke-width="3.5" />
<text x="999.0" y="1126.4" font-size="12.5" fill="#333" textLength="13.5" lengthAdjust="spacingAndGlyphs" >40</text>
<text x="1012.5" y="1126.4" font-size="12.5" fill="#333" font-family="Liberation Serif" >℃</text>
<line x1="969.8" y1="1148.2" x2="991.3" y2="1148.2" stroke="#d8302c" stroke-width="3.5" />
<text x="999.0" y="1152.7" font-size="12.5" fill="#333" textLength="13.5" lengthAdjust="spacingAndGlyphs" >50</text>
<text x="1012.5" y="1152.7" font-size="12.5" fill="#333" font-family="Liberation Serif" >℃</text>
<text x="54.5" y="1301.5" font-size="14" fill="#9a9a9a" textLength="415.0" lengthAdjust="spacingAndGlyphs" >SAFETY WARNING: USE ONLY WITHIN THE ALLOWED PARAMETERS.</text>
<text x="475.6" y="1301.5" font-size="14" fill="#9a9a9a" textLength="582.0" lengthAdjust="spacingAndGlyphs" >Do not short circuit or over load the battery. Charge only using an approved charger designed</text>
</svg>
</body></html>
